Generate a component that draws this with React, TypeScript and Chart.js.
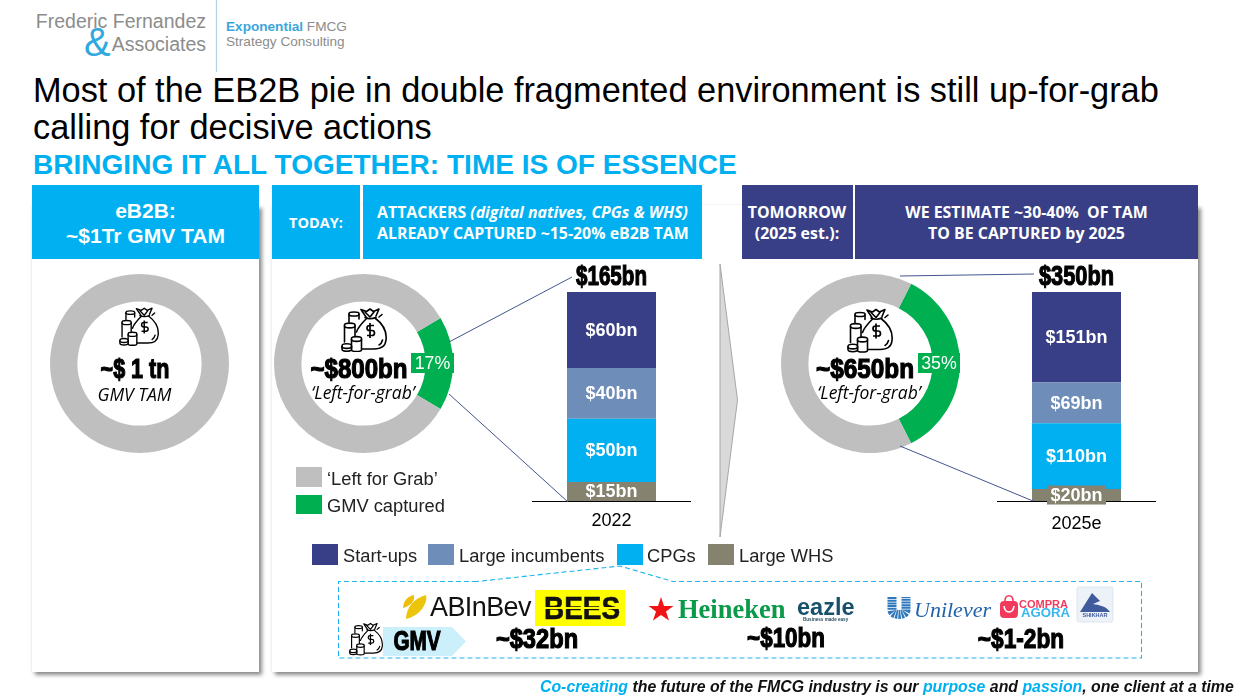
import React, { useEffect, useRef } from "react";
import { Chart, registerables } from "chart.js";

Chart.register(...registerables);

// ---- data ----
const donutLeftForGrab = [100, 83, 65];
const donutCaptured = [0, 17, 35];
const donutLegend = ["\u2018Left for Grab\u2019", "GMV captured"];
const years = ["2022", "2025e"];
const startUps = [60, 151];
const largeIncumbents = [40, 69];
const cpgs = [50, 110];
const largeWhs = [15, 20];
const seriesLabels = ["Start-ups", "Large incumbents", "CPGs", "Large WHS"];

// ---- palette ----
const NAVY = "#383F86";
const STEEL = "#6F8DB9";
const CYAN = "#00B0F0";
const TAUPE = "#85826F";
const GREY = "#BFBFBF";
const GREEN = "#00B050";
const LINE = "#45558F";
const SANS = '"Liberation Sans", Arial, sans-serif';
const OPEN = '"Open Sans", sans-serif';

function Donut({ index, left, top }: { index: number; left: number; top: number }) {
  const ref = useRef<HTMLCanvasElement>(null);
  useEffect(() => {
    const chart = new Chart(ref.current!, {
      type: "doughnut",
      data: {
        labels: donutLegend,
        datasets: [
          {
            data: [donutCaptured[index], donutLeftForGrab[index]],
            backgroundColor: [GREEN, GREY],
            borderWidth: 0,
          },
        ],
      },
      options: {
        responsive: false,
        animation: false,
        cutout: "69.4%",
        rotation: 90 - donutCaptured[index] * 1.8,
        layout: { padding: 0 },
        plugins: { legend: { display: false }, tooltip: { enabled: false }, title: { display: false } },
      },
    });
    return () => chart.destroy();
  }, [index]);
  return <canvas ref={ref} width={179} height={179} style={{ position: "absolute", left, top, width: 179, height: 179 }} />;
}

const barLabels = {
  id: "barLabels",
  afterDatasetsDraw(chart: any, _a: any, opts: any) {
    const { ctx } = chart;
    ctx.save();
    ctx.textAlign = "center";
    ctx.textBaseline = "middle";
    chart.data.datasets.forEach((ds: any, i: number) => {
      const el = chart.getDatasetMeta(i).data[0];
      const cy = (el.y + el.base) / 2;
      if (opts.boxFor === i) {
        ctx.fillStyle = ds.backgroundColor;
        ctx.fillRect(el.x - 29.5, cy - 9.5, 59, 19);
      }
      ctx.fillStyle = "#fff";
      ctx.font = `bold 18px ${SANS}`;
      ctx.fillText(`$${ds.data[0]}bn`, el.x, cy + 1);
    });
    const total = chart.data.datasets.reduce((s: number, d: any) => s + d.data[0], 0);
    const yTop = chart.scales.y.getPixelForValue(total);
    const x = chart.getDatasetMeta(0).data[0].x;
    ctx.translate(x, yTop - 15);
    ctx.scale(opts.totalScale, 1);
    ctx.font = `bold 28px ${SANS}`;
    ctx.fillStyle = "#000";
    ctx.strokeStyle = "#000";
    ctx.lineWidth = 1.2;
    ctx.fillText(`$${total}bn`, 0, 0);
    ctx.strokeText(`$${total}bn`, 0, 0);
    ctx.restore();
  },
};

function StackedBar({
  index,
  left,
  tickPad,
  boxFor,
  totalScale,
}: {
  index: number;
  left: number;
  tickPad: number;
  boxFor: number;
  totalScale: number;
}) {
  const ref = useRef<HTMLCanvasElement>(null);
  useEffect(() => {
    const total = startUps[index] + largeIncumbents[index] + cpgs[index] + largeWhs[index];
    const mk = (label: string, v: number[], color: string) => ({
      label,
      data: [v[index]],
      backgroundColor: color,
      borderWidth: 0,
      barPercentage: 89 / 159,
      categoryPercentage: 1,
    });
    const chart = new Chart(ref.current!, {
      type: "bar",
      data: {
        labels: [years[index]],
        datasets: [
          mk(seriesLabels[3], largeWhs, TAUPE),
          mk(seriesLabels[2], cpgs, CYAN),
          mk(seriesLabels[1], largeIncumbents, STEEL),
          mk(seriesLabels[0], startUps, NAVY),
        ],
      },
      plugins: [barLabels],
      options: {
        responsive: false,
        animation: false,
        layout: { padding: { top: 30, left: 0, right: 0, bottom: 0 } },
        scales: {
          x: {
            stacked: true,
            grid: { display: false, drawTicks: false },
            border: { display: true, color: "#000", width: 1 },
            ticks: { color: "#000", padding: tickPad, font: { family: '"Liberation Sans"', size: 18 }, maxRotation: 0 },
            afterFit: (s: any) => {
              s.height = 31;
            },
          },
          y: { stacked: true, display: false, min: 0, max: total },
        },
        plugins: {
          legend: { display: false },
          tooltip: { enabled: false },
          barLabels: { boxFor, totalScale },
        } as any,
      },
    });
    return () => chart.destroy();
  }, [index, tickPad, boxFor, totalScale]);
  return <canvas ref={ref} width={159} height={270} style={{ position: "absolute", left, top: 262, width: 159, height: 270 }} />;
}

function T({
  x,
  y,
  align = "left",
  sx = 1,
  style,
  children,
}: {
  x: number;
  y: number;
  align?: "left" | "center" | "right";
  sx?: number;
  style?: React.CSSProperties;
  children: React.ReactNode;
}) {
  const tx = align === "center" ? "-50%" : align === "right" ? "-100%" : "0";
  return (
    <div
      style={{
        position: "absolute",
        left: x,
        top: y,
        transform: `translate(${tx}, -50%) scaleX(${sx})`,
        whiteSpace: "pre",
        lineHeight: 1,
        ...style,
      }}
    >
      {children}
    </div>
  );
}

function Heavy(p: { x: number; y: number; sx: number; children: React.ReactNode }) {
  return (
    <T
      x={p.x}
      y={p.y}
      align="center"
      sx={p.sx}
      style={{
        fontWeight: 700,
        fontSize: 28,
        color: "#000",
        WebkitTextStroke: "1.2px #000",
      }}
    >
      {p.children}
    </T>
  );
}

function Box({ x, y, w, h, c }: { x: number; y: number; w: number; h: number; c: string }) {
  return <div style={{ position: "absolute", left: x, top: y, width: w, height: h, background: c }} />;
}

function MoneyIcon({ x, y, w, h }: { x: number; y: number; w: number; h: number }) {
  return (
    <svg viewBox="0 0 46 44" width={w} height={h} style={{ position: "absolute", left: x, top: y }}>
      <g fill="none" stroke="#000" strokeWidth="1.6" strokeLinejoin="round" strokeLinecap="round">
        <path d="M8 14V5.5C8 3.5 18 3.5 18 5.5V11" />
        <path d="M8 6.5C8 8.5 18 8.5 18 6.5" />
        <path d="M3.5 34V17C3.5 14.5 14 14.5 14 17V31" />
        <path d="M3.5 18C3.5 20.5 14 20.5 14 18" />
        <path d="M10.5 42V30.5C10.5 28 20.5 28 20.5 30.5V42C20.5 44 10.5 44 10.5 42Z" fill="#fff" />
        <path d="M10.5 31.5C10.5 34 20.5 34 20.5 31.5" />
        <path d="M1 38C1 35 10.5 35 10.5 38V41C10.5 44 1 44 1 41Z" fill="#fff" />
        <path d="M1 38.5C1 41 10.5 41 10.5 38.5" />
        <path d="M26 10C22 14 17 19 15.5 24M34 10C42 16 46 24 45 32C44.5 38 40 41 33 41H21" />
        <path d="M24 9.5C27 11 31 11 35 9.5M25 9L20 1.5L25.5 3.5L29 1L32.5 3.5L38 1L35 8" />
        <path d="M38 9L41 6.5M24 4L29 9L33 4M38 37C40 36 41 34 41.5 32" />
      </g>
      <path d="M33 17.5h-4.5a2.5 2.5 0 0 0 0 5h2.5a2.5 2.5 0 0 1 0 5H26M29 15v15" fill="none" stroke="#000" strokeWidth="1.7" />
    </svg>
  );
}

function Graphics() {
  return (
    <svg width={1236} height={700} style={{ position: "absolute", left: 0, top: 0, pointerEvents: "none" }}>
      <line x1={216.5} y1={0} x2={216.5} y2={72} stroke="#B4D2E8" strokeWidth={1.3} />
      <polygon points="720,264 737.5,400 720,537" fill="#D9D9D9" stroke="#A6A6A6" strokeWidth={1} />
      <g stroke={LINE} strokeWidth={1} fill="none">
        <line x1={449} y1={342} x2={572} y2={277} />
        <line x1={449} y1={394} x2={568} y2={502} />
        <line x1={900} y1={276} x2={1034} y2={274} />
        <line x1={900} y1={446} x2={1033} y2={501} />
      </g>
      <path
        d="M477 581.5L338.5 581.5L338.5 658L1141.5 658L1141.5 581.5L673 581.5L620 566Z"
        fill="none"
        stroke="#22B4EC"
        strokeWidth={1.1}
        strokeDasharray="5 3"
      />
      <polygon points="383,627 452,627 466,641.5 452,656 383,656" fill="#CCEFFC" />
      {/* AB InBev leaf */}
      <path d="M403 608C403 601 408 596 414 595C415 602 410 606 403 608Z" fill="#EDBF0C" />
      <path d="M406 619C406 608 414 598 426 595C428 603 420 616 406 619Z" fill="#EDC40C" />
      {/* Heineken star */}
      <polygon points="661,597 664,606 673.5,606 666,611.5 669,620.5 661,615 653,620.5 656,611.5 648.5,606 658,606" fill="#F01414" />
      {/* Unilever U */}
      <path d="M892 597V610C892 616 906 616 906 610V597" fill="none" stroke="#2F78BC" strokeWidth={9} strokeDasharray="2 0.7" />
      {/* Compra bag */}
      <rect x={1000} y={601} width={18} height={17} rx={4} fill="#F23B5C" />
      <path d="M1005 601C1005 594 1013 594 1013 601" fill="none" stroke="#F23B5C" strokeWidth={1.6} />
      <path d="M1004 606C1005 614 1013 614 1014 606" fill="none" stroke="#fff" strokeWidth={1.6} />
      {/* Shikhar */}
      <rect x={1077} y={587} width={36} height={35} rx={1.5} fill="#ECF2F8" stroke="#DDE7F0" />
      <path d="M1080 612L1092 593L1100 601L1093 604C1099 605 1106 606 1110 612Z" fill="#3F5B9C" />
    </svg>
  );
}

export default function App() {
  const headerBold: React.CSSProperties = { fontFamily: OPEN, fontWeight: 700, fontSize: 15.9, color: "#fff" };
  const leg: React.CSSProperties = { fontSize: 18.3, color: "#222" };
  const grab: React.CSSProperties = { fontFamily: OPEN, fontStyle: "italic", fontSize: 17.5, color: "#000" };
  const pct: React.CSSProperties = { fontSize: 17.8, color: "#fff" };
  const greyLogo = "#8C8C8C";
  const legendSquares = [
    { x: 312, c: NAVY, tx: 343 },
    { x: 428, c: STEEL, tx: 459 },
    { x: 616.5, c: CYAN, tx: 647 },
    { x: 708, c: TAUPE, tx: 739 },
  ];
  return (
    <div
      style={{
        position: "absolute",
        left: 0,
        top: 0,
        width: 1236,
        height: 700,
        overflow: "hidden",
        background: "#fff",
        fontFamily: SANS,
      }}
    >
      {/* logo */}
      <T x={206} y={21.5} align="right" style={{ fontSize: 19.5, color: greyLogo }}>Frederic Fernandez</T>
      <T x={206} y={44.5} align="right" style={{ fontSize: 19.5, color: greyLogo }}>Associates</T>
      <T x={84} y={42} style={{ fontSize: 40, color: "#2FA9E0" }}>&amp;</T>
      <T x={226} y={26.5} style={{ fontSize: 13.6, color: greyLogo }}>
        <span style={{ color: "#3AA6DC", fontWeight: 700 }}>Exponential</span> FMCG
      </T>
      <T x={226} y={41.5} style={{ fontSize: 13.6, color: greyLogo }}>Strategy Consulting</T>

      {/* title */}
      <T x={33} y={89.5} style={{ fontSize: 34.34, color: "#000" }}>Most of the EB2B pie in double fragmented environment is still up-for-grab</T>
      <T x={33} y={126.5} style={{ fontSize: 34.34, color: "#000" }}>calling for decisive actions</T>
      <T x={33} y={165} style={{ fontSize: 28.05, fontWeight: 700, color: CYAN }}>BRINGING IT ALL TOGETHER: TIME IS OF ESSENCE</T>

      {/* panels */}
      <div style={{ position: "absolute", left: 32, top: 205, width: 227, height: 467, background: "#fff", boxShadow: "3px 3px 4px rgba(0,0,0,.45), -1px 0 2px rgba(0,0,0,.06)" }} />
      <div style={{ position: "absolute", left: 272, top: 205, width: 926, height: 467, background: "#fff", boxShadow: "3px 3px 4px rgba(0,0,0,.45), -1px 0 2px rgba(0,0,0,.06)" }} />

      {/* headers */}
      <Box x={32} y={185} w={227} h={74} c={CYAN} />
      <Box x={272} y={185} w={88} h={74} c={CYAN} />
      <Box x={363} y={185} w={339} h={74} c={CYAN} />
      <Box x={742} y={185} w={111} h={74} c={NAVY} />
      <Box x={855} y={185} w={343} h={74} c={NAVY} />
      <T x={145.5} y={210} align="center" style={{ fontSize: 21, fontWeight: 700, color: "#fff" }}>eB2B:</T>
      <T x={145.5} y={235} align="center" style={{ fontSize: 21, fontWeight: 700, color: "#fff" }}>~$1Tr GMV TAM</T>
      <T x={316} y={222.5} align="center" style={{ ...headerBold, fontSize: 14.5 }}>TODAY:</T>
      <T x={377} y={213} style={headerBold}>
        ATTACKERS <i>(digital natives, CPGs &amp; WHS)</i>
      </T>
      <T x={377} y={234} style={headerBold}>ALREADY CAPTURED ~15-20% eB2B TAM</T>
      <T x={797} y={212.5} align="center" style={headerBold}>TOMORROW</T>
      <T x={797} y={234} align="center" style={headerBold}>(2025 est.):</T>
      <T x={1026.5} y={212.5} align="center" style={headerBold}>WE ESTIMATE ~30-40%  OF TAM</T>
      <T x={1026.5} y={234} align="center" style={headerBold}>TO BE CAPTURED by 2025</T>

      <Donut index={0} left={50} top={274} />
      <Donut index={1} left={274} top={274} />
      <Donut index={2} left={781} top={274} />
      <StackedBar index={0} left={532} tickPad={9} boxFor={-1} totalScale={0.735} />
      <StackedBar index={1} left={997} tickPad={12} boxFor={0} totalScale={0.777} />

      <Graphics />

      {/* donut centres */}
      <MoneyIcon x={119} y={306} w={40} h={41} />
      <Heavy x={134.5} y={369} sx={0.77}>~$ 1 tn</Heavy>
      <T x={134.5} y={395} align="center" style={grab}>GMV TAM</T>

      <MoneyIcon x={341} y={308} w={46} h={44} />
      <Heavy x={358.5} y={369} sx={0.86}>~$800bn</Heavy>
      <T x={363} y={393} align="center" style={grab}>{"\u2018Left-for-grab\u2019"}</T>
      <Box x={411} y={353} w={43} h={20} c={GREEN} />
      <T x={432.5} y={363.5} align="center" style={pct}>{`${donutCaptured[1]}%`}</T>

      <MoneyIcon x={847} y={308} w={46} h={45} />
      <Heavy x={865} y={369} sx={0.87}>~$650bn</Heavy>
      <T x={869} y={393} align="center" style={grab}>{"\u2018Left-for-grab\u2019"}</T>
      <Box x={918} y={353} w={42} h={20} c={GREEN} />
      <T x={939} y={363.5} align="center" style={pct}>{`${donutCaptured[2]}%`}</T>

      {/* donut legend */}
      <Box x={296} y={467} w={26} h={20} c={GREY} />
      <Box x={296} y={495} w={26} h={19} c={GREEN} />
      <T x={327} y={478.5} style={leg}>{donutLegend[0]}</T>
      <T x={327} y={506} style={leg}>{donutLegend[1]}</T>

      {/* series legend */}
      {legendSquares.map((s, i) => (
        <React.Fragment key={i}>
          <Box x={s.x} y={544} w={26} h={21} c={s.c} />
          <T x={s.tx} y={556} style={leg}>{seriesLabels[i]}</T>
        </React.Fragment>
      ))}

      {/* brand strip */}
      <T x={430} y={607} style={{ fontSize: 27, color: "#111", letterSpacing: -0.6 }}>ABInBev</T>
      <Box x={535} y={590} w={90} h={36} c="#FFFF00" />
      <T x={581.5} y={607.5} align="center" sx={0.9} style={{ fontSize: 31, fontWeight: 700, color: "#111", WebkitTextStroke: "0.6px #111" }}>BEES</T>
      <Box x={540} y={606.5} w={84} h={2} c="#FFFF00" />
      <T x={678} y={609} style={{ fontFamily: '"Liberation Serif", serif', fontWeight: 700, fontSize: 26.5, color: "#0B9A4A" }}>Heineken</T>
      <T x={797} y={608} style={{ fontSize: 23.5, fontWeight: 700, color: "#17506B" }}>eazle</T>
      <T x={803} y={620} style={{ fontSize: 4.6, fontWeight: 700, color: "#2B4F63" }}>Business made easy</T>
      <T x={914} y={610} style={{ fontFamily: '"Liberation Serif", serif', fontStyle: "italic", fontSize: 22, color: "#1F62AA" }}>Unilever</T>
      <T x={1019} y={603.5} style={{ fontSize: 11, fontWeight: 700, color: "#F23B5C" }}>COMPRA</T>
      <T x={1021} y={613} style={{ fontSize: 13.2, fontWeight: 700, color: "#38B6F0" }}>AGORA</T>
      <T x={1095} y={616} align="center" style={{ fontSize: 5.5, fontWeight: 700, color: "#3F5B9C" }}>SHIKHAR</T>

      <MoneyIcon x={349} y={622} w={34} h={34} />
      <Heavy x={416.5} y={641} sx={0.74}>GMV</Heavy>
      <Heavy x={537} y={639} sx={0.845}>~$32bn</Heavy>
      <Heavy x={786} y={638} sx={0.8}>~$10bn</Heavy>
      <Heavy x={1021} y={639} sx={0.81}>~$1-2bn</Heavy>

      {/* footer */}
      <T x={540} y={687} style={{ fontSize: 15.85, fontWeight: 700, fontStyle: "italic", color: "#111" }}>
        <span style={{ color: CYAN }}>Co-creating</span> the future of the FMCG industry is our{" "}
        <span style={{ color: CYAN }}>purpose</span> and <span style={{ color: CYAN }}>passion</span>, one client at a time
      </T>
    </div>
  );
}
